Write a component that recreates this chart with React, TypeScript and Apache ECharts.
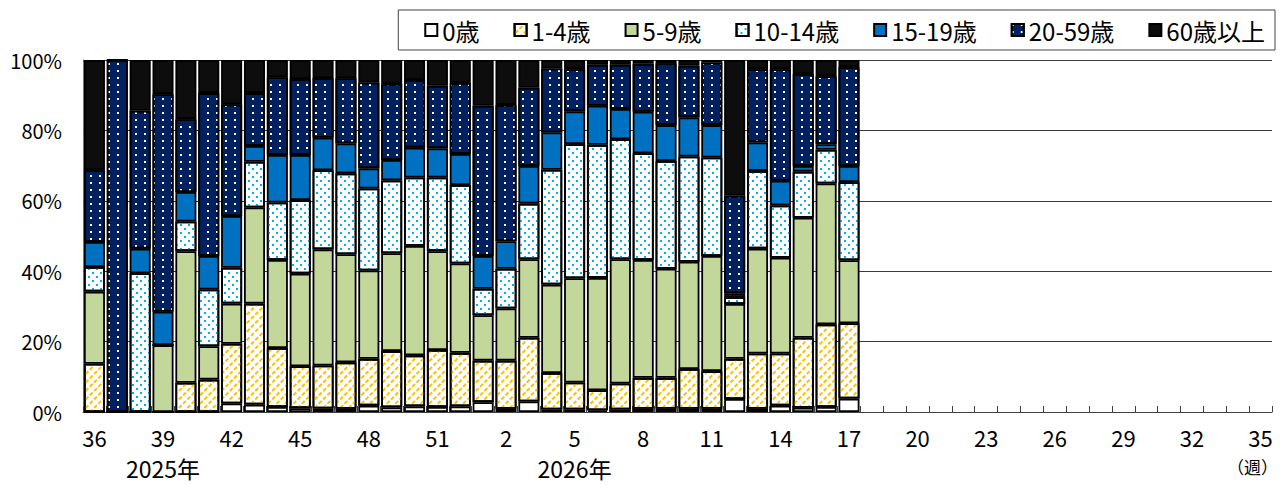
import React, { useEffect, useRef } from "react";
import * as echarts from "echarts";

// ---- categories / tick labels ----
const weeks2025 = ["36","37","38","39","40","41","42","43","44","45","46","47","48","49","50","51","52"];
const weeks2026 = ["1","2","3","4","5","6","7","8","9","10","11","12","13","14","15","16","17","18","19","20","21","22","23","24","25","26","27","28","29","30","31","32","33","34","35"];
const categories = [...weeks2025, ...weeks2026];
const yearLabels = [
  { week: "39", text: "2025年" },
  { week: "5", text: "2026年" },
];
const unitLabel = "（週）";
const yTicks = [0, 20, 40, 60, 80, 100];

// ---- series values (% of cases), weeks 36/2025 .. 17/2026 ----
const seriesNames = ["0歳", "1-4歳", "5-9歳", "10-14歳", "15-19歳", "20-59歳", "60歳以上"];
const age0 = [0,0,0,0,0,0,2.4,2.1,1.4,1.1,1.0,0.9,1.8,1.3,1.6,1.4,1.6, 2.8,0.9,3.0,0.7,0.7,0.5,0.7,0.9,0.9,0.9,0.9,3.7,0.9,1.8,1.2,1.4,3.8];
const age1to4 = [13.7,0,0,0,8.3,9.2,17.0,28.7,16.8,11.9,12.2,13.2,13.3,16.0,14.5,16.2,15.2, 11.8,13.7,18.1,10.4,7.7,5.7,7.4,8.8,8.8,11.3,10.7,11.4,15.7,14.8,19.9,23.5,21.4];
const age5to9 = [20.5,0,0,19.0,37.4,9.5,11.4,27.3,25.0,26.3,33.0,30.7,25.1,27.8,31.1,28.1,25.4, 12.9,14.8,22.3,25.1,29.6,31.9,35.3,33.5,31.0,30.5,32.7,15.6,29.8,27.2,34.1,40.0,17.9];
const age10to14 = [7.0,0,39.4,0,8.4,16.1,10.2,13.0,16.3,20.9,22.5,23.0,23.3,20.7,19.4,20.9,22.3, 7.5,11.3,15.8,32.6,38.1,37.8,34.1,30.3,30.6,29.9,28.0,1.9,22.1,14.9,13.1,9.6,22.2];
const age15to19 = [7.1,0,7.0,9.5,8.4,9.5,14.7,4.5,13.5,12.8,9.2,8.5,5.7,5.8,8.5,8.3,8.8, 9.3,7.8,10.7,10.6,9.3,11.1,8.6,11.8,10.2,11.1,9.2,1.1,8.1,7.0,1.6,1.6,4.6];
const age20to59 = [20.4,100,39.2,61.8,20.7,46.3,31.7,15.0,22.1,21.6,17.0,18.5,24.4,21.6,19.2,17.8,20.2, 42.7,38.7,22.2,18.2,12.0,11.7,12.6,13.6,17.6,14.7,17.8,27.7,20.8,31.7,26.1,19.3,28.1];
const age60plus = [31.3,0,14.4,9.7,16.8,9.4,12.6,9.4,4.9,5.4,5.1,5.2,6.4,6.8,5.7,7.3,6.5, 13.0,12.8,7.9,2.4,2.6,1.3,1.3,1.1,0.9,1.6,0.7,38.6,2.6,2.6,4.0,4.6,2.0];
const seriesValues = [age0, age1to4, age5to9, age10to14, age15to19, age20to59, age60plus];

const FONT = "'Noto Sans CJK JP', 'Noto Sans', sans-serif";

const styles: any[] = [
  { color: "#ffffff" },
  {
    color: "#ffffff",
    decal: {
      symbol: "rect",
      color: "#ffc000",
      dashArrayX: [4, 1.5],
      dashArrayY: [1.3, 3.2],
      rotation: -Math.PI / 4,
    },
  },
  { color: "#c4d79b" },
  {
    color: "#ffffff",
    decal: {
      symbol: "rect",
      color: "#00b0f0",
      dashArrayX: [[1.8, 5.2], [0, 3.5, 1.8, 1.7]],
      dashArrayY: [1.8, 1.7],
    },
  },
  { color: "#0070c0" },
  {
    color: "#002060",
    decal: {
      symbol: "rect",
      color: "#ffffff",
      dashArrayX: [1.7, 7],
      dashArrayY: [1.7, 5],
    },
  },
  { color: "#0d0d0d" },
];

export default function App() {
  const ref = useRef<HTMLDivElement>(null);
  useEffect(() => {
    if (!ref.current) return;
    const chart = echarts.init(ref.current, undefined, { renderer: "svg" });
    const option: any = {
      animation: false,
      backgroundColor: "#ffffff",
      textStyle: { fontFamily: FONT },
      legend: {
        data: seriesNames,
        right: 6,
        top: 10,
        icon: "rect",
        itemWidth: 12,
        itemHeight: 12,
        itemGap: 34,
        padding: [8, 10, 8, 26],
        borderColor: "#444",
        borderWidth: 1,
        backgroundColor: "#fff",
        textStyle: { fontSize: 24, color: "#000", fontFamily: FONT },
      },
      grid: { left: 83, right: 9, top: 60, bottom: 73, containLabel: false },
      xAxis: {
        type: "category",
        data: categories,
        boundaryGap: true,
        axisLine: { show: true, lineStyle: { color: "#404040", width: 1 } },
        axisTick: { show: true, inside: true, interval: 0, length: 6, lineStyle: { color: "#404040" } },
        axisLabel: {
          interval: 2,
          margin: 14,
          color: "#000",
          fontSize: 22,
          fontFamily: FONT,
        },
        splitLine: { show: false },
      },
      yAxis: {
        type: "value",
        min: yTicks[0],
        max: yTicks[yTicks.length - 1],
        interval: 20,
        axisLine: { show: true, lineStyle: { color: "#808080" } },
        axisTick: { show: true, inside: true, length: 6, lineStyle: { color: "#595959" } },
        axisLabel: {
          formatter: (v: number) => `${v}%`,
          color: "#000",
          fontSize: 20,
          margin: 21,
          fontFamily: FONT,
        },
        splitLine: { show: true, lineStyle: { color: "#3a3a3a", width: 1 } },
      },
      series: seriesNames.map((name, i) => ({
        name,
        type: "bar",
        stack: "total",
        barCategoryGap: "8%",
        data: seriesValues[i],
        itemStyle: { ...styles[i], borderColor: "#000", borderWidth: 1.8 },
        emphasis: { disabled: true },
      })),
    };
    chart.setOption(option);

    const axisY = chart.convertToPixel({ yAxisIndex: 0 }, 0) as number;
    const graphics: any[] = yearLabels.map((yl) => ({
      type: "text",
      x: chart.convertToPixel({ xAxisIndex: 0 }, yl.week) as number,
      y: axisY + 56,
      style: {
        text: yl.text,
        fontSize: 23,
        fontFamily: FONT,
        fill: "#000",
        align: "center",
        verticalAlign: "middle",
      },
    }));
    graphics.push({
      type: "text",
      x: chart.getWidth() - 3,
      y: axisY + 54,
      style: {
        text: unitLabel,
        fontSize: 17,
        fontFamily: FONT,
        fill: "#000",
        align: "right",
        verticalAlign: "middle",
      },
    });
    chart.setOption({ graphic: graphics });
    return () => chart.dispose();
  }, []);
  return (
    <div
      ref={ref}
      style={{ position: "absolute", left: 0, top: 0, width: 1281, height: 485 }}
    />
  );
}
